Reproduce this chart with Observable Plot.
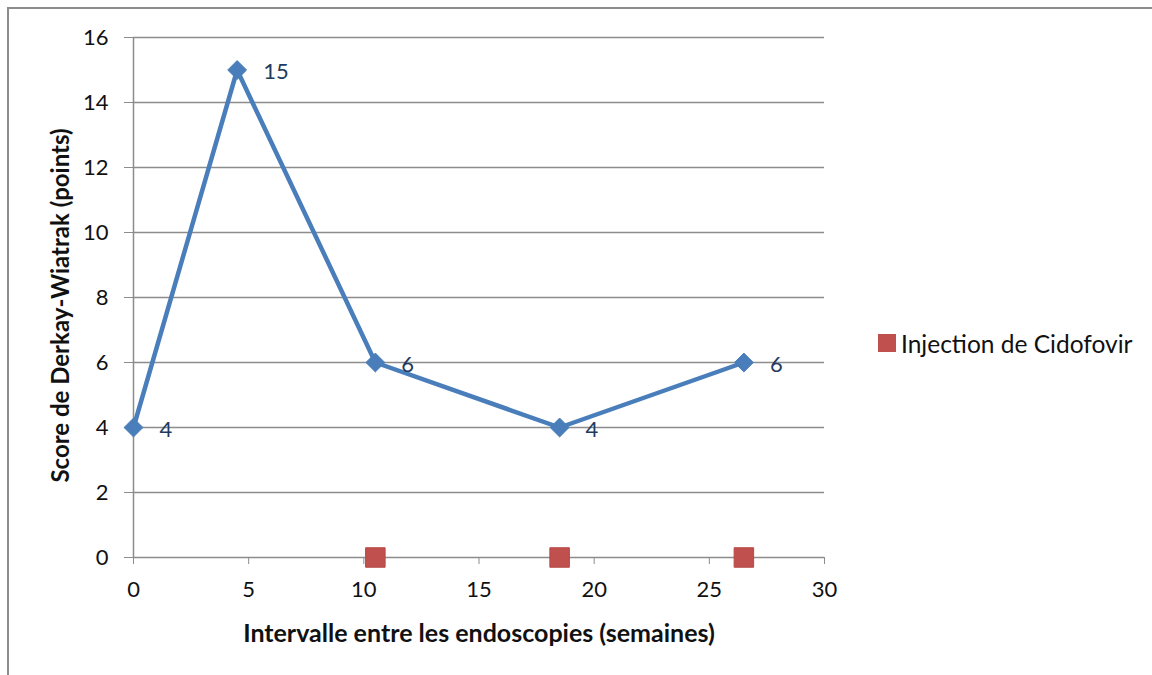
<!DOCTYPE html>
<html>
<head>
<meta charset="utf-8">
<script src="https://cdn.jsdelivr.net/npm/d3@7"></script>
<script src="https://cdn.jsdelivr.net/npm/@observablehq/plot@0.6"></script>
<style>
  html, body { margin: 0; padding: 0; background: #fff; }
  #wrap { position: relative; width: 1152px; height: 675px; overflow: hidden; font-family: Lato, "Open Sans", sans-serif; }
  #frame { position: absolute; left: 7px; top: 7px; width: 1200px; height: 700px; border: 2px solid #8c8c8c; box-sizing: border-box; }
  #chart { position: absolute; left: 0; top: 0; }
  #legend { position: absolute; left: 878px; top: 329px; height: 28px; display: flex; align-items: center; font-size: 24.5px; color: #111; }
  #legend .sw { width: 18px; height: 18px; background: #C0504D; margin-right: 5px; }
</style>
</head>
<body>
<div id="wrap">
  <div id="frame"></div>
  <div id="chart"></div>
  <div id="legend"><div class="sw"></div><span>Injection de Cidofovir</span></div>
</div>
<script>
const weeks = [0, 4.5, 10.5, 18.5, 26.5];
const scores = [4, 15, 6, 4, 6];
const injectionWeeks = [10.5, 18.5, 26.5];
const injectionLevel = [0, 0, 0];
const xTicks = [0, 5, 10, 15, 20, 25, 30];
const yTicks = [0, 2, 4, 6, 8, 10, 12, 14, 16];

const scoreData = weeks.map((w, i) => ({week: w, score: scores[i]}));
const injData = injectionWeeks.map((w, i) => ({week: w, score: injectionLevel[i]}));

const chart = Plot.plot({
  width: 1152,
  height: 675,
  marginLeft: 133,
  marginRight: 328,
  marginTop: 37,
  marginBottom: 118,
  style: {fontFamily: "Lato, 'Open Sans', sans-serif", fontSize: "22px", color: "#111", background: "transparent"},
  x: {domain: [0, 30], ticks: xTicks},
  y: {domain: [0, 16], ticks: yTicks},
  marks: [
    Plot.gridY(yTicks, {stroke: "#8c8c8c", strokeOpacity: 1, strokeWidth: 1.5}),
    Plot.ruleX([0], {stroke: "#8c8c8c", strokeWidth: 1.5}),
    Plot.axisY({ticks: yTicks, tickSize: 9, tickPadding: 16, stroke: "#8c8c8c", label: null, fill: "#111", fontSize: 22}),
    Plot.axisX({ticks: xTicks, tickSize: 7, tickPadding: 17, stroke: "#8c8c8c", label: null, fill: "#111", fontSize: 22}),
    Plot.text(["Score de Derkay-Wiatrak (points)"], {frameAnchor: "left", textAnchor: "middle", lineAnchor: "middle", dx: -72, dy: 8, rotate: -90, fontWeight: "bold", fontSize: 24, fill: "#111"}),
    Plot.text(["Intervalle entre les endoscopies (semaines)"], {frameAnchor: "bottom", textAnchor: "middle", lineAnchor: "middle", dy: 76, fontWeight: "bold", fontSize: 25, fill: "#111"}),
    Plot.line(scoreData, {x: "week", y: "score", stroke: "#4A7EBB", strokeWidth: 4.5}),
    Plot.dot(scoreData, {x: "week", y: "score", symbol: "diamond2", r: 8.5, fill: "#4A7EBB", stroke: "#4A7EBB", strokeWidth: 1}),
    Plot.text(scoreData, {x: "week", y: "score", text: d => String(d.score), textAnchor: "start", lineAnchor: "middle", dx: 26, dy: 2, fontSize: 22, fill: "#1F3A60"}),
    Plot.dot(injData, {x: "week", y: "score", symbol: "square", r: 11, fill: "#C0504D", stroke: "#B84744", strokeWidth: 1})
  ]
});
document.getElementById("chart").appendChild(chart);
</script>
</body>
</html>
